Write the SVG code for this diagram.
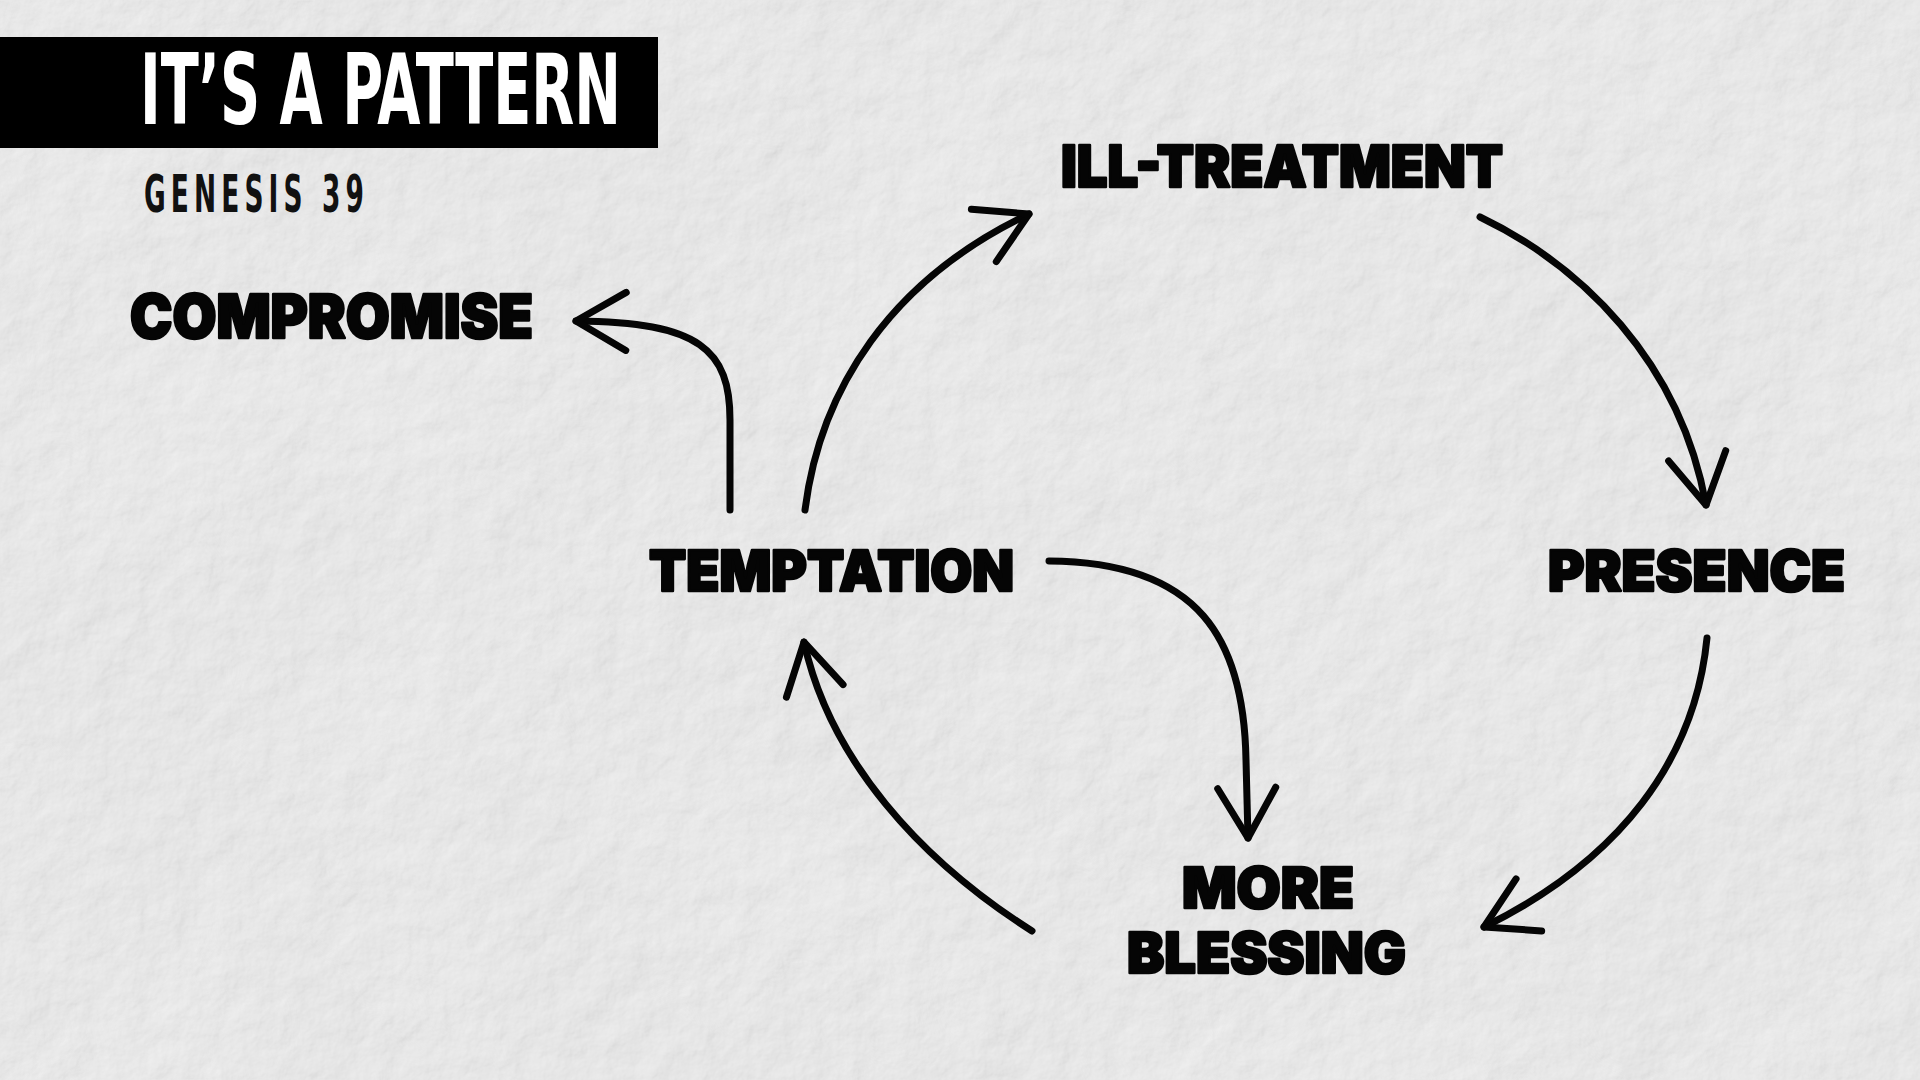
<svg xmlns="http://www.w3.org/2000/svg" width="1920" height="1080" viewBox="0 0 1920 1080">
  <style>
    .lbl { font-family: Inter, "Open Sans", "Liberation Sans", sans-serif; font-weight: 900; fill: #050505; stroke: #050505; stroke-width: 2.6; stroke-linejoin: round; }
    .ttl { font-family: "DejaVu Sans", "Liberation Sans", sans-serif; font-weight: bold; font-stretch: condensed; }
    .arrow { fill: none; stroke: #050505; stroke-width: 7; stroke-linecap: round; stroke-linejoin: round; }
  </style>
  <defs>
    <filter id="concrete" x="0" y="0" width="100%" height="100%" filterUnits="userSpaceOnUse">
      <feTurbulence type="fractalNoise" baseFrequency="0.028" numOctaves="5" seed="7" result="noise"/>
      <feDiffuseLighting in="noise" lighting-color="#efefef" surfaceScale="1.5" diffuseConstant="1" result="lit">
        <feDistantLight azimuth="225" elevation="66"/>
      </feDiffuseLighting>
    </filter>
    <filter id="blotch" x="0" y="0" width="100%" height="100%" filterUnits="userSpaceOnUse">
      <feTurbulence type="fractalNoise" baseFrequency="0.004" numOctaves="3" seed="11" result="n"/>
      <feColorMatrix in="n" type="matrix" values="0 0 0 0 1  0 0 0 0 1  0 0 0 0 1  0.9 0 0 0 -0.35"/>
    </filter>
    <marker id="head" markerUnits="userSpaceOnUse" markerWidth="120" markerHeight="120" refX="0" refY="0" viewBox="-60 -60 120 120" orient="auto" overflow="visible">
      <path d="M-50,-29 L0,0 L-50,29" fill="none" stroke="#050505" stroke-width="7" stroke-linecap="round" stroke-linejoin="round"/>
    </marker>
  </defs>

  <g id="background">
    <rect x="0" y="0" width="1920" height="1080" fill="#dadada"/>
    <rect x="0" y="0" width="1920" height="1080" filter="url(#concrete)"/>
    <rect x="0" y="0" width="1920" height="1080" filter="url(#blotch)" opacity="0.3"/>
  </g>

  <g id="title">
    <rect x="0" y="37" width="658" height="111" fill="#000"/>
    <text class="ttl" x="140" y="124" font-size="98" fill="#fff" textLength="481" lengthAdjust="spacingAndGlyphs">IT’S A PATTERN</text>
    <text class="ttl" x="144" y="212" font-size="52" fill="#111" letter-spacing="9" textLength="225" lengthAdjust="spacingAndGlyphs">GENESIS 39</text>
  </g>

  <g id="connectors">
    <path class="arrow" marker-end="url(#head)" d="M730,510 L730,420 C730,350 700,322 576,321"/>
    <path class="arrow" marker-end="url(#head)" d="M805,510 C820,390 890,280 1029,214"/>
    <path class="arrow" marker-end="url(#head)" d="M1480,217 C1580,265 1680,360 1706,505"/>
    <path class="arrow" marker-end="url(#head)" d="M1707,638 C1695,760 1620,860 1484,927"/>
    <path class="arrow" marker-end="url(#head)" d="M1032,931 C920,860 830,760 804,642"/>
    <path class="arrow" marker-end="url(#head)" d="M1049,561 C1200,562 1244,640 1246,760 L1248,838"/>
  </g>

  <g id="node-compromise">
    <text class="lbl" x="130" y="338" font-size="60" textLength="403" lengthAdjust="spacingAndGlyphs">COMPROMISE</text>
  </g>
  <g id="node-ill-treatment">
    <text class="lbl" x="1061" y="187" font-size="58" textLength="442" lengthAdjust="spacingAndGlyphs">ILL-TREATMENT</text>
  </g>
  <g id="node-temptation">
    <text class="lbl" x="649" y="591" font-size="57" textLength="365" lengthAdjust="spacingAndGlyphs">TEMPTATION</text>
  </g>
  <g id="node-presence">
    <text class="lbl" x="1548" y="591" font-size="57" textLength="297" lengthAdjust="spacingAndGlyphs">PRESENCE</text>
  </g>
  <g id="node-more-blessing">
    <text class="lbl" x="1182" y="908" font-size="57" textLength="172" lengthAdjust="spacingAndGlyphs">MORE</text>
    <text class="lbl" x="1127" y="973" font-size="57" textLength="279" lengthAdjust="spacingAndGlyphs">BLESSING</text>
  </g>
</svg>
